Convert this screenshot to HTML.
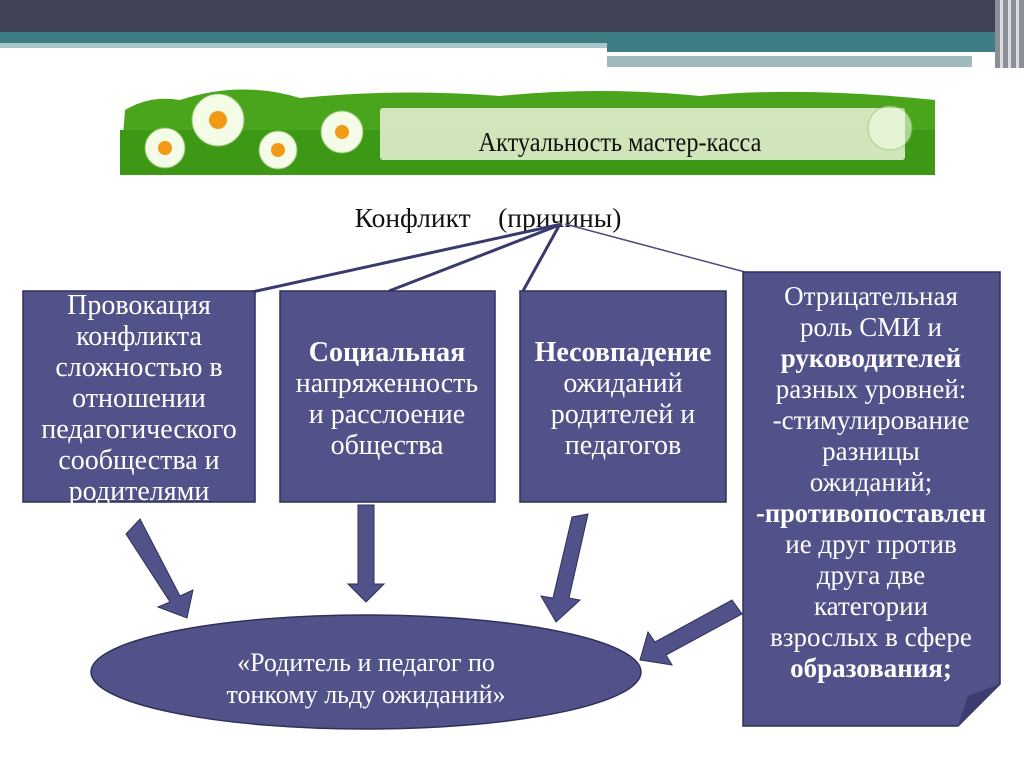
<!DOCTYPE html>
<html><head><meta charset="utf-8"><style>
html,body{margin:0;padding:0;background:#fff;}
svg{display:block;}
text{font-family:"Liberation Serif",serif;}
</style></head><body>
<svg width="1024" height="767" viewBox="0 0 1024 767" xmlns="http://www.w3.org/2000/svg">
<rect x="0" y="0" width="1024" height="32" fill="#414456"/>
<rect x="0" y="32" width="1024" height="11" fill="#3f7d85"/>
<rect x="0" y="43" width="607" height="5" fill="#a9c6ca"/>
<rect x="607" y="43" width="395" height="9" fill="#3f7d85"/>
<rect x="607" y="52" width="365" height="4" fill="#ffffff"/>
<rect x="607" y="56" width="365" height="11" fill="#9fb9bd"/>
<rect x="995" y="0" width="29" height="68" fill="#8a8f99"/>
<rect x="1000" y="0" width="3" height="68" fill="#ddd"/>
<rect x="1008" y="0" width="3" height="68" fill="#ddd"/>
<rect x="1016" y="0" width="3" height="68" fill="#ddd"/>

<path d="M120 175 L125 110 Q150 95 180 100 Q240 80 300 98 Q400 88 500 96 Q600 86 700 96 Q800 86 935 100 L935 175 Z" fill="#4aa51c"/>
<rect x="120" y="130" width="815" height="45" fill="#3d9816"/>
<rect x="380" y="108" width="525" height="52" rx="3" fill="#dcebc9" opacity="0.92"/>
<g fill="#f4fbe6" stroke="#8bc46a" stroke-width="1">
<circle cx="218" cy="120" r="26"/><circle cx="165" cy="148" r="20"/><circle cx="278" cy="150" r="19"/><circle cx="342" cy="132" r="21"/><circle cx="890" cy="128" r="22" opacity="0.6"/>
</g>
<g fill="#f29a14"><circle cx="218" cy="120" r="9"/><circle cx="165" cy="148" r="7"/><circle cx="278" cy="150" r="7"/><circle cx="342" cy="132" r="7"/></g>
<text x="620" y="151" font-size="27" text-anchor="middle" fill="#111" transform="translate(620,0) scale(0.9,1) translate(-620,0)">Актуальность мастер-касса</text>

<text x="488" y="227" font-size="27.5" text-anchor="middle" fill="#111">Конфликт&#160;&#160;&#160;&#160;(причины)</text>

<g stroke="#3a3a6e" stroke-width="3" fill="none">
<line x1="562" y1="224" x2="252" y2="292"/>
<line x1="562" y1="224" x2="389" y2="291"/>
<line x1="560" y1="224" x2="523" y2="291"/>
</g>
<line x1="565" y1="224" x2="745" y2="272" stroke="#4e4e80" stroke-width="1.5"/>

<g fill="#52528a" stroke="#2f2f5a" stroke-width="1.5">
<rect x="23" y="291" width="232" height="211"/>
<rect x="280" y="291" width="215" height="211"/>
<rect x="520" y="291" width="206" height="211"/>
<path d="M743 272 L1000 272 L1000 684 L958 726 L743 726 Z"/>
</g>
<path d="M1000 684 L968 696 L958 726 Z" fill="#3c3c70"/>

<g fill="#52528a" stroke="#2f2f5a" stroke-width="1">
<path d="M126 534 L140 519 L180 596 L193 590 L187 618 L158 607 L170 602 Z"/>
<path d="M358 505 L374 505 L374 584 L384 584 L366 602 L348 584 L358 584 Z"/>
<path d="M572 517 L588 514 L569 598 L580 600 L556 622 L541 596 L553 598 Z"/>
<path d="M732 600 L742 614 L666 655 L672 665 L640 660 L648 632 L655 642 Z"/>
</g>

<ellipse cx="366" cy="672" rx="275" ry="57" fill="#52528a" stroke="#2f2f5a" stroke-width="1.5"/>

<g fill="#ffffff" font-size="28" text-anchor="middle">
<g font-size="26">
<text x="366" y="671">«Родитель и педагог по</text>
<text x="366" y="703">тонкому льду ожиданий»</text>
</g>
<g>
<text x="139" y="314">Провокация</text>
<text x="139" y="345">конфликта</text>
<text x="139" y="376">сложностью в</text>
<text x="139" y="407">отношении</text>
<text x="139" y="438">педагогического</text>
<text x="139" y="469">сообщества и</text>
<text x="139" y="500">родителями</text>
</g>
<g>
<text x="387" y="361" font-weight="bold">Социальная</text>
<text x="387" y="392">напряженность</text>
<text x="387" y="423">и расслоение</text>
<text x="387" y="454">общества</text>
</g>
<g>
<text x="623" y="361" font-weight="bold">Несовпадение</text>
<text x="623" y="392">ожиданий</text>
<text x="623" y="423">родителей и</text>
<text x="623" y="454">педагогов</text>
</g>
<g font-size="27">
<text x="871" y="305">Отрицательная</text>
<text x="871" y="336">роль СМИ и</text>
<text x="871" y="367" font-weight="bold">руководителей</text>
<text x="871" y="398">разных уровней:</text>
<text x="871" y="429">-стимулирование</text>
<text x="871" y="460">разницы</text>
<text x="871" y="491">ожиданий;</text>
<text x="871" y="522" font-weight="bold" textLength="230" lengthAdjust="spacingAndGlyphs">-противопоставлен</text>
<text x="871" y="553">ие друг против</text>
<text x="871" y="584">друга две</text>
<text x="871" y="615">категории</text>
<text x="871" y="646">взрослых в сфере</text>
<text x="871" y="677" font-weight="bold">образования;</text>
</g>
</g>
</svg>
</body></html>
